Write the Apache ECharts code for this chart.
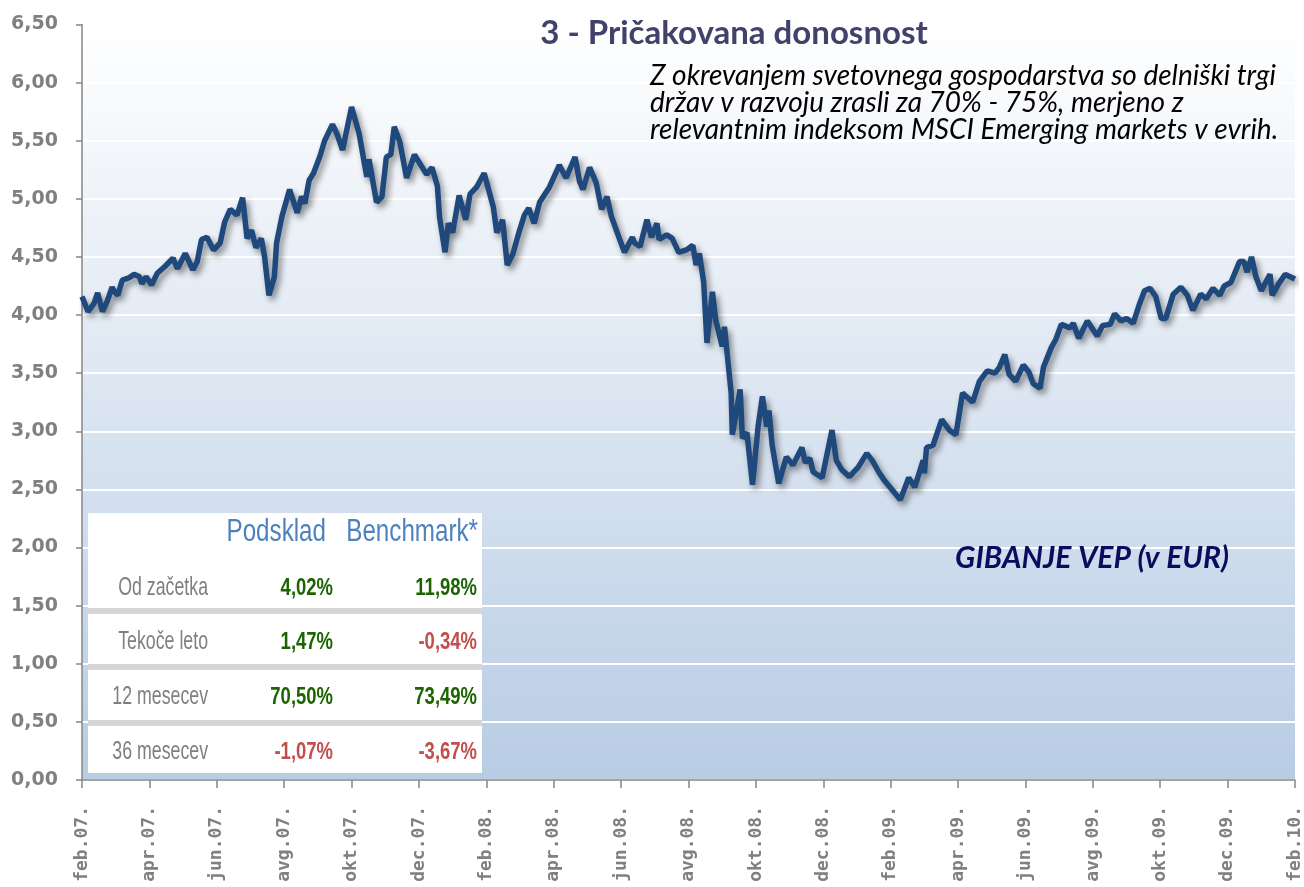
<!DOCTYPE html>
<html><head><meta charset="utf-8">
<script src="https://cdn.jsdelivr.net/npm/echarts@6/dist/echarts.min.js"></script>
<style>html,body{margin:0;padding:0;background:#fff}#c{width:1304px;height:887px}</style>
</head><body><div id="c"></div>
<script>
const dates = [
'2007-02-01','2007-02-06','2007-02-11','2007-02-14','2007-02-18','2007-02-22','2007-02-26','2007-02-28',
'2007-03-03','2007-03-07','2007-03-13','2007-03-18','2007-03-23','2007-03-25','2007-03-29',
'2007-04-03','2007-04-08','2007-04-15','2007-04-22','2007-04-26',
'2007-05-03','2007-05-10','2007-05-14','2007-05-18','2007-05-23','2007-05-29',
'2007-06-04','2007-06-08','2007-06-13','2007-06-19','2007-06-24','2007-06-28',
'2007-07-02','2007-07-06','2007-07-11','2007-07-14','2007-07-18','2007-07-23','2007-07-25','2007-07-30',
'2007-08-06','2007-08-13','2007-08-17','2007-08-20','2007-08-24','2007-08-28',
'2007-09-03','2007-09-07','2007-09-14','2007-09-18','2007-09-23',
'2007-10-01','2007-10-08','2007-10-15','2007-10-17','2007-10-24','2007-10-29',
'2007-11-02','2007-11-06','2007-11-09','2007-11-14','2007-11-20','2007-11-27',
'2007-12-08','2007-12-13','2007-12-18','2007-12-20','2007-12-25','2007-12-28',
'2008-01-01','2008-01-07','2008-01-13','2008-01-17','2008-01-23','2008-01-30',
'2008-02-07','2008-02-10','2008-02-15','2008-02-19','2008-02-24','2008-02-29',
'2008-03-05','2008-03-09','2008-03-14','2008-03-19','2008-03-28',
'2008-04-06','2008-04-12','2008-04-20','2008-04-24','2008-04-27',
'2008-05-03','2008-05-09','2008-05-14','2008-05-19','2008-05-23','2008-05-30',
'2008-06-04','2008-06-11','2008-06-13','2008-06-18','2008-06-20','2008-06-24','2008-06-28',
'2008-07-03','2008-07-05','2008-07-12','2008-07-17','2008-07-23','2008-07-30',
'2008-08-05','2008-08-08','2008-08-11','2008-08-15','2008-08-18','2008-08-23','2008-08-26',
'2008-09-01','2008-09-03','2008-09-09','2008-09-10','2008-09-17','2008-09-19','2008-09-23','2008-09-28',
'2008-10-03','2008-10-07','2008-10-11','2008-10-13','2008-10-16','2008-10-22','2008-10-29',
'2008-11-04','2008-11-12','2008-11-15','2008-11-19','2008-11-22','2008-11-30',
'2008-12-09','2008-12-13','2008-12-18','2008-12-25',
'2009-01-02','2009-01-10','2009-01-15','2009-01-21','2009-01-26',
'2009-02-02','2009-02-09','2009-02-16','2009-02-21','2009-02-28',
'2009-03-01','2009-03-03','2009-03-09','2009-03-17','2009-03-24','2009-03-30',
'2009-04-05','2009-04-14','2009-04-20','2009-04-27',
'2009-05-04','2009-05-08','2009-05-13','2009-05-17','2009-05-23','2009-05-30',
'2009-06-04','2009-06-08','2009-06-14','2009-06-17','2009-06-24','2009-06-28',
'2009-07-03','2009-07-11','2009-07-14','2009-07-19','2009-07-27',
'2009-08-05','2009-08-10','2009-08-17','2009-08-21','2009-08-27',
'2009-09-01','2009-09-07','2009-09-12','2009-09-17','2009-09-22','2009-09-27',
'2009-10-02','2009-10-06','2009-10-13','2009-10-20','2009-10-26','2009-10-31',
'2009-11-07','2009-11-12','2009-11-18','2009-11-24','2009-11-28',
'2009-12-04','2009-12-12','2009-12-16','2009-12-19','2009-12-23','2009-12-27',
'2010-01-01','2010-01-09','2010-01-11','2010-01-17','2010-01-23','2010-02-01'
];
const values = [
4.16,4.03,4.10,4.19,4.03,4.12,4.24,4.20,
4.17,4.30,4.32,4.35,4.33,4.27,4.33,
4.26,4.36,4.42,4.49,4.40,
4.53,4.39,4.46,4.65,4.67,4.56,
4.62,4.80,4.91,4.86,5.01,4.66,
4.73,4.58,4.66,4.50,4.17,4.33,4.62,4.85,
5.08,4.88,5.02,4.96,5.16,5.22,
5.37,5.50,5.64,5.56,5.42,
5.79,5.56,5.19,5.34,4.97,5.02,
5.36,5.38,5.62,5.49,5.18,5.38,
5.21,5.27,5.11,4.84,4.54,4.79,
4.71,5.03,4.82,5.04,5.10,5.22,
4.93,4.71,4.82,4.43,4.53,4.71,
4.86,4.92,4.79,4.97,5.10,
5.29,5.18,5.36,5.15,5.08,
5.27,5.14,4.91,5.02,4.85,4.67,
4.54,4.67,4.62,4.59,4.67,4.82,4.67,
4.79,4.65,4.69,4.66,4.54,4.56,
4.60,4.43,4.53,4.28,3.76,4.20,3.96,
3.73,3.90,3.33,2.97,3.36,2.94,2.99,2.54,
3.04,3.30,3.04,3.18,2.88,2.55,2.78,
2.71,2.86,2.73,2.77,2.65,2.60,
3.01,2.75,2.67,2.61,
2.69,2.81,2.75,2.65,2.58,
2.50,2.41,2.60,2.52,2.75,
2.64,2.86,2.88,3.10,3.01,2.97,
3.33,3.25,3.43,3.52,
3.50,3.55,3.66,3.49,3.43,3.57,
3.51,3.41,3.37,3.55,3.72,3.79,
3.92,3.89,3.93,3.80,3.95,
3.82,3.91,3.92,4.01,3.95,
3.97,3.93,4.08,4.21,4.23,4.16,
3.97,3.97,4.18,4.24,4.17,4.04,
4.18,4.14,4.23,4.17,4.25,
4.28,4.46,4.46,4.37,4.50,4.33,
4.21,4.35,4.17,4.27,4.35,4.31
];
const xTickLabels = ['feb.07.','apr.07.','jun.07.','avg.07.','okt.07.','dec.07.','feb.08.','apr.08.','jun.08.','avg.08.','okt.08.','dec.08.','feb.09.','apr.09.','jun.09.','avg.09.','okt.09.','dec.09.','feb.10.'];
const titleText = '3 - Pričakovana donosnost';
const noteLines = ['Z okrevanjem svetovnega gospodarstva so delniški trgi','držav v razvoju zrasli za 70% - 75%, merjeno z','relevantnim indeksom MSCI Emerging markets v evrih.'];
const seriesLabel = 'GIBANJE VEP (v EUR)';
const tableHeaders = ['Podsklad','Benchmark*'];
const rowLabels = ['Od začetka','Tekoče leto','12 mesecev','36 mesecev'];
const podskladVals = ['4,02%','1,47%','70,50%','-1,07%'];
const benchmarkVals = ['11,98%','-0,34%','73,49%','-3,67%'];

function monthIndex(s){
  const p = s.split('-').map(Number);
  const dim = new Date(p[0], p[1], 0).getDate();
  return (p[0]-2007)*12 + (p[1]-2) + (p[2]-1)/dim;
}
const seriesData = dates.map((d,i)=>[monthIndex(d), values[i]]);

const chart = echarts.init(document.getElementById('c'));
const sans = '"Liberation Sans", Arial, sans-serif';
const gfx = [];
// table
gfx.push({type:'rect', shape:{x:88,y:513,width:394,height:260}, style:{fill:'#ffffff'}, z:10});
[608,664,720].forEach(y=>gfx.push({type:'rect', shape:{x:88,y:y,width:394,height:6}, style:{fill:'#d6d6d6'}, z:11}));
const colX = [333, 477];
gfx.push({type:'text', x:326, y:532, scaleX:0.78, style:{text:tableHeaders[0], fill:'#4f81bd', font:'31px '+sans, align:'right', verticalAlign:'middle'}, z:12});
gfx.push({type:'text', x:478, y:532, scaleX:0.78, style:{text:tableHeaders[1], fill:'#4f81bd', font:'31px '+sans, align:'right', verticalAlign:'middle'}, z:12});
const rowY = [588, 642, 697, 752];
rowLabels.forEach((lab,i)=>{
  gfx.push({type:'text', x:208, y:rowY[i], scaleX:0.71, style:{text:lab, fill:'#7f7f7f', font:'25px '+sans, align:'right', verticalAlign:'middle'}, z:12});
  [podskladVals[i], benchmarkVals[i]].forEach((v,j)=>{
    gfx.push({type:'text', x:colX[j], y:rowY[i], scaleX:0.77, style:{text:v, fill: v.charAt(0)==='-' ? '#c0504d' : '#1d6400', font:'bold 24px '+sans, align:'right', verticalAlign:'middle'}, z:12});
  });
});
// title + notes
gfx.push({type:'text', x:734, y:33, style:{text:titleText, fill:'#41416b', font:'bold 33px Lato, "Open Sans", sans-serif', align:'center', verticalAlign:'middle'}, z:12});
noteLines.forEach((t,i)=>{
  gfx.push({type:'text', x:650, y:76+i*27, style:{text:t, fill:'#000000', font:'italic 28px Lato, "Open Sans", sans-serif', align:'left', verticalAlign:'middle'}, z:12});
});
gfx.push({type:'text', x:1092, y:558, style:{text:seriesLabel, fill:'#0c0c5e', font:'italic bold 30px Lato, "Open Sans", sans-serif', align:'center', verticalAlign:'middle'}, z:12});

chart.setOption({
  animation:false,
  backgroundColor:'#ffffff',
  grid:{left:82, right:9, top:24.5, bottom:107, show:true, borderWidth:0,
    backgroundColor:{type:'linear',x:0,y:0,x2:0,y2:1,colorStops:[{offset:0,color:'#ffffff'},{offset:1,color:'#b8cce4'}]}},
  xAxis:{type:'value', min:0, max:36, interval:2,
    axisLine:{show:true, lineStyle:{color:'#868686', width:1.5}},
    axisTick:{show:true, length:8, lineStyle:{color:'#868686', width:1.5}},
    splitLine:{show:false},
    axisLabel:{rotate:90, margin:26, color:'#808080', fontSize:18, fontWeight:'bold', fontFamily:'"DejaVu Sans Mono", monospace',
      formatter:(v)=>xTickLabels[Math.round(v/2)] || ''}},
  yAxis:{type:'value', min:0, max:6.5, interval:0.5,
    axisLine:{show:true, lineStyle:{color:'#868686', width:1.5}},
    axisTick:{show:true, length:6, lineStyle:{color:'#868686', width:1.5}},
    splitLine:{show:true, lineStyle:{color:'#ffffff', width:2}},
    axisLabel:{margin:24, color:'#808080', fontSize:19, fontWeight:'bold', fontFamily:'"DejaVu Sans", sans-serif',
      formatter:(v)=>v.toFixed(2).replace('.',',')}},
  series:[{type:'line', data:seriesData, showSymbol:false, smooth:false,
    lineStyle:{color:'#1f497d', width:5.5, shadowColor:'rgba(0,0,0,0.45)', shadowBlur:6, shadowOffsetX:3, shadowOffsetY:4},
    z:5}],
  graphic:gfx
});
</script></body></html>
